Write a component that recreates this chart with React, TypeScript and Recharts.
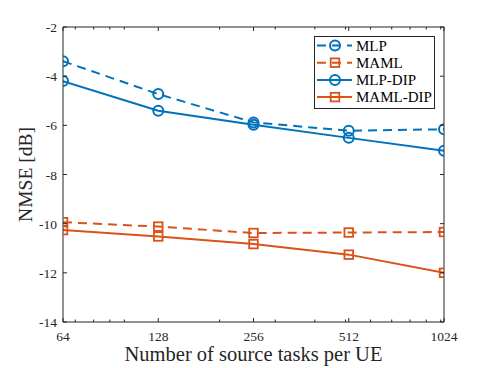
import { LineChart, Line, XAxis, YAxis, Label } from 'recharts';

const tasks = [64, 128, 256, 512, 1024];
const mlp = [-3.39, -4.73, -5.88, -6.22, -6.16];
const maml = [-9.94, -10.12, -10.38, -10.36, -10.34];
const mlpDip = [-4.2, -5.41, -5.98, -6.51, -7.03];
const mamlDip = [-10.26, -10.52, -10.83, -11.26, -12.0];

const xTicks = [64, 128, 256, 512, 1024];
const xMinorTicks = [70, 80, 90, 100, 200, 300, 400, 500, 600, 700, 800, 900, 1000];
const yTicks = [-14, -12, -10, -8, -6, -4, -2];

const BLUE = '#0072BD';
const ORANGE = '#D95319';
const AXIS = '#262626';
const FONT = '"Liberation Serif", "DejaVu Serif", serif';

const data = tasks.map((t, i) => ({
  tasks: t,
  mlp: mlp[i],
  maml: maml[i],
  mlpDip: mlpDip[i],
  mamlDip: mamlDip[i],
}));

const allXTicks = [...xTicks, ...xMinorTicks].sort((a, b) => a - b);

const SERIES = [
  { key: 'mlp', name: 'MLP', color: BLUE, dash: '9 6', marker: 'circle' },
  { key: 'maml', name: 'MAML', color: ORANGE, dash: '9 6', marker: 'square' },
  { key: 'mlpDip', name: 'MLP-DIP', color: BLUE, dash: undefined, marker: 'circle' },
  { key: 'mamlDip', name: 'MAML-DIP', color: ORANGE, dash: undefined, marker: 'square' },
];

function Marker({ cx, cy, color, marker }: any) {
  if (cx == null || cy == null) return null;
  if (marker === 'circle') {
    return <circle cx={cx} cy={cy} r={5} fill="none" stroke={color} strokeWidth={2} />;
  }
  return <rect x={cx - 4.3} y={cy - 4.3} width={8.6} height={8.6} fill="none" stroke={color} strokeWidth={1.8} />;
}

// inward MATLAB-style ticks, minor ones shorter
function BottomTick({ x, y, payload }: any) {
  const major = xTicks.includes(payload.value);
  return (
    <g>
      <line x1={x} x2={x} y1={y} y2={y - (major ? 4 : 2.5)} stroke={AXIS} />
      {major && (
        <text x={x} y={y + 19} textAnchor="middle" fontFamily={FONT} fontSize={13.5} fill={AXIS}>
          {payload.value}
        </text>
      )}
    </g>
  );
}

function TopTick({ x, y, payload }: any) {
  const major = xTicks.includes(payload.value);
  return <line x1={x} x2={x} y1={y} y2={y + (major ? 4 : 2.5)} stroke={AXIS} />;
}

function LeftTick({ x, y, payload }: any) {
  return (
    <g>
      <line x1={x} x2={x + 4} y1={y} y2={y} stroke={AXIS} />
      <text x={x - 6} y={y + 5} textAnchor="end" fontFamily={FONT} fontSize={13.5} fill={AXIS}>
        {payload.value}
      </text>
    </g>
  );
}

function RightTick({ x, y }: any) {
  return <line x1={x} x2={x - 4} y1={y} y2={y} stroke={AXIS} />;
}

function LegendBox() {
  return (
    <svg width={121} height={73} style={{ display: 'block' }}>
      <rect x={0.5} y={0.5} width={120} height={72} fill="#fff" stroke={AXIS} strokeWidth={1} />
      {SERIES.map((s, i) => {
        const y = 9.5 + i * 17.2;
        return (
          <g key={s.key}>
            <line x1={3} x2={38} y1={y} y2={y} stroke={s.color} strokeWidth={2} strokeDasharray={s.dash} />
            <Marker cx={21} cy={y} color={s.color} marker={s.marker} />
            <text x={42} y={y + 5} fontFamily={FONT} fontSize={15} fill="#000">
              {s.name}
            </text>
          </g>
        );
      })}
    </svg>
  );
}

const xCommon = {
  type: 'number' as const,
  dataKey: 'tasks',
  scale: 'log' as const,
  domain: [64, 1024],
  allowDataOverflow: true,
  ticks: allXTicks,
  interval: 0,
  tickSize: 0,
  tickMargin: 0,
  tickLine: false,
  axisLine: { stroke: AXIS },
};

const yCommon = {
  type: 'number' as const,
  domain: [-14, -2],
  allowDataOverflow: true,
  ticks: yTicks,
  interval: 0,
  tickSize: 0,
  tickMargin: 0,
  tickLine: false,
  axisLine: { stroke: AXIS },
};

export default function App() {
  return (
    <div style={{ position: 'absolute', left: 0, top: 0, width: 491, height: 368, background: '#fff' }}>
      <LineChart width={491} height={368} data={data} margin={{ top: 0, right: 0, bottom: 0, left: 0 }}>
        <XAxis xAxisId="main" {...xCommon} tick={<BottomTick />} height={46}>
          <Label
            content={({ viewBox }: any) => (
              <text
                x={viewBox.x + viewBox.width / 2}
                y={viewBox.y + 39}
                textAnchor="middle"
                fontFamily={FONT}
                fontSize={20.5}
                fill={AXIS}
              >
                Number of source tasks per UE
              </text>
            )}
          />
        </XAxis>
        <XAxis xAxisId="top" orientation="top" {...xCommon} tick={<TopTick />} height={27} />
        <YAxis yAxisId="main" {...yCommon} tick={<LeftTick />} width={63}>
          <Label
            content={({ viewBox }: any) => {
              const cx = viewBox.x + viewBox.width - 37.5;
              const cy = viewBox.y + viewBox.height / 2;
              return (
                <text
                  x={cx}
                  y={cy}
                  transform={`rotate(-90, ${cx}, ${cy})`}
                  textAnchor="middle"
                  dominantBaseline="central"
                  fontFamily={FONT}
                  fontSize={19.5}
                  fill={AXIS}
                >
                  NMSE [dB]
                </text>
              );
            }}
          />
        </YAxis>
        <YAxis yAxisId="right" orientation="right" {...yCommon} tick={<RightTick />} width={47} />
        {SERIES.map((s) => (
          <Line
            key={s.key}
            xAxisId="main"
            yAxisId="main"
            type="linear"
            dataKey={s.key}
            name={s.name}
            stroke={s.color}
            strokeWidth={2}
            strokeDasharray={s.dash}
            dot={(p: any) => <Marker key={`${s.key}-${p.index}`} cx={p.cx} cy={p.cy} color={s.color} marker={s.marker} />}
            activeDot={false}
            isAnimationActive={false}
          />
        ))}
      </LineChart>
      <div style={{ position: 'absolute', left: 314, top: 36 }}>
        <LegendBox />
      </div>
    </div>
  );
}
